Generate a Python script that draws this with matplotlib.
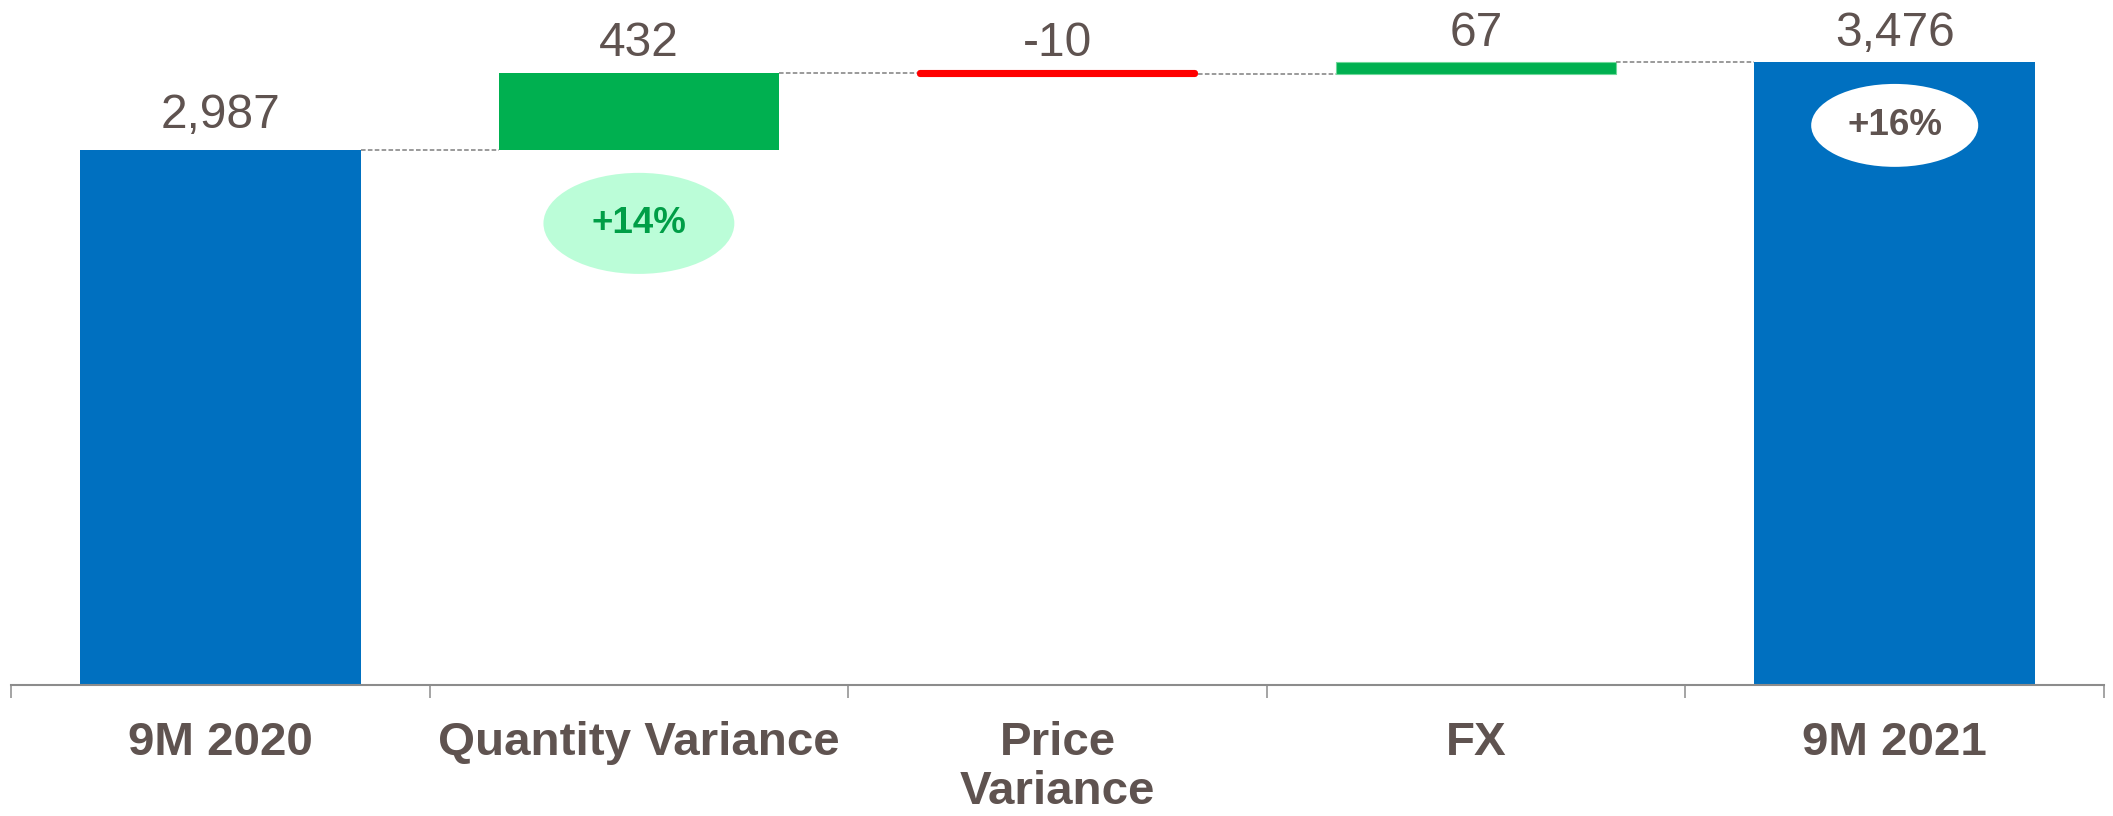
import matplotlib
matplotlib.use("Agg")
import matplotlib.pyplot as plt
from matplotlib.patches import Ellipse
import numpy as np

# ── Datos ──────────────────────────────────────────────────────────────────────
categorias = ["9M 2020", "Quantity Variance", "Price\nVariance", "FX", "9M 2021"]
valores = [2987, 432, -10, 67, 3476]
es_total = [True, False, False, False, True]

AZUL = "#0070C0"
VERDE = "#00B050"
ROJO = "#FF0000"
TEXTO = "#5F5350"
GRIS = "#8C8C8C"

matplotlib.rcParams.update(
    {
        "font.family": ["Liberation Sans", "DejaVu Sans"],
        "axes.spines.top": False,
        "axes.spines.right": False,
        "axes.spines.left": False,
    }
)

# ── Bases del waterfall ────────────────────────────────────────────────────────
bases, alturas, colores = [], [], []
acumulado = 0
for v, tot in zip(valores, es_total):
    if tot:
        bases.append(0)
        alturas.append(v)
        colores.append(AZUL)
        acumulado = v
    else:
        bases.append(acumulado)
        alturas.append(v)
        colores.append(VERDE if v >= 0 else ROJO)
        acumulado += v

x = np.arange(len(categorias))
ANCHO = 0.67

fig = plt.figure(figsize=(21.13, 8.16), dpi=100)
ax = fig.add_axes([11 / 2113, 1 - 685 / 816, 2093 / 2113, 685 / 816])
ax.set_xlim(-0.5, len(categorias) - 0.5)
ax.set_ylim(0, 3824)

for i in range(len(categorias)):
    if colores[i] == ROJO:
        # barra muy fina: se engrosa con un borde redondeado del mismo color
        ax.bar(x[i], alturas[i], bottom=bases[i], width=ANCHO - 0.012,
               color=ROJO, edgecolor=ROJO, linewidth=4.4, joinstyle="round")
    elif colores[i] == VERDE and abs(alturas[i]) < 100:
        ax.bar(x[i], alturas[i], bottom=bases[i], width=ANCHO,
               color=VERDE, edgecolor="#6FD89A", linewidth=0.8)
    else:
        ax.bar(x[i], alturas[i], bottom=bases[i], width=ANCHO,
               color=colores[i], linewidth=0)

    tope = max(bases[i], bases[i] + alturas[i])
    desplaz = 16 if i == 0 else 12
    ax.annotate(f"{valores[i]:,}", (x[i], tope), xytext=(0, desplaz),
                textcoords="offset points", ha="center", va="baseline",
                fontsize=34.5, color=TEXTO)

# Conectores punteados entre barras
nivel = [b + h for b, h in zip(bases, alturas)]
for i in range(len(categorias) - 1):
    ax.plot([x[i] + ANCHO / 2, x[i + 1] - ANCHO / 2], [nivel[i], nivel[i]],
            color="#7F7F7F", linewidth=1.1, linestyle=(0, (3, 1.5)), zorder=1)

# Burbujas de variación porcentual
pct_qty = valores[1] / valores[0] * 100
pct_total = (valores[4] - valores[0]) / valores[0] * 100

ax.add_patch(Ellipse((x[1], 2577), 0.456, 564, facecolor="#BBFDD8",
                     edgecolor="none", zorder=3))
ax.text(x[1], 2577, f"+{pct_qty:.0f}%", ha="center", va="center",
        fontsize=26.5, fontweight="bold", color="#009E47", zorder=4)

ax.add_patch(Ellipse((x[4], 3124), 0.399, 463, facecolor="white",
                     edgecolor="none", zorder=3))
ax.text(x[4], 3124, f"+{pct_total:.0f}%", ha="center", va="center",
        fontsize=26.5, fontweight="bold", color=TEXTO, zorder=4)

# ── Ejes ───────────────────────────────────────────────────────────────────────
ax.set_yticks([])
ax.spines["bottom"].set_color(GRIS)
ax.spines["bottom"].set_linewidth(1.5)

ax.set_xticks(np.arange(-0.5, len(categorias)), labels=[])
ax.tick_params(axis="x", which="major", length=9.4, width=1.1, color=GRIS,
               direction="out")
ax.set_xticks(x, labels=categorias, minor=True)
ax.tick_params(axis="x", which="minor", length=0, pad=26, labelsize=34.2,
               labelcolor=TEXTO)
for lbl in ax.get_xticklabels(minor=True):
    lbl.set_fontweight("bold")
    lbl.set_linespacing(1.15)

fig.savefig("out.png", dpi=100)
plt.close()
